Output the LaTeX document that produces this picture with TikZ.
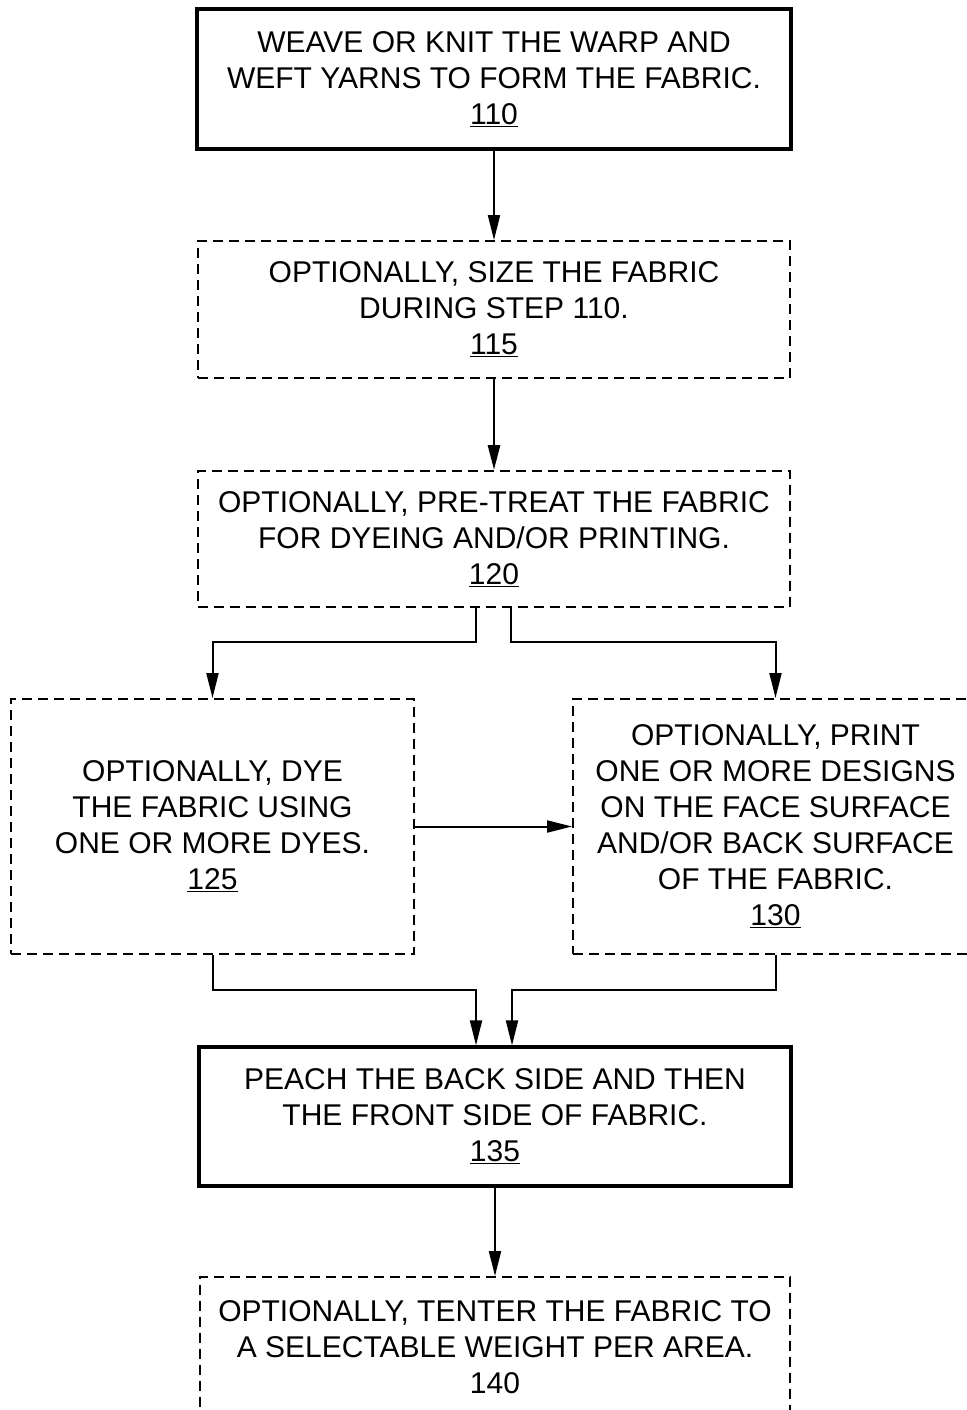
\documentclass[tikz,border=0pt]{standalone}
\usepackage{fontspec}
\setmainfont{Liberation Sans}
\usetikzlibrary{arrows.meta}
\begin{document}
\begin{tikzpicture}[x=1pt,y=-1pt,
  every node/.style={font=\fontsize{30}{36}\selectfont, align=center, inner sep=0pt},
  solidbox/.style={draw, line width=3.2pt, rectangle},
  optbox/.style={draw, line width=2pt, rectangle, dash pattern=on 10pt off 6pt},
  arr/.style={line width=2pt, -{Triangle[length=25pt,width=12pt]}}]
\useasboundingbox (0,0) rectangle (966,1410);
\node[solidbox, minimum width=594pt, minimum height=140pt] (n110) at (494,79)
  {WEAVE OR KNIT THE WARP AND\\WEFT YARNS TO FORM THE FABRIC.\\\underline{110}};
\node[optbox, minimum width=592pt, minimum height=137pt] (n115) at (494,309.5)
  {OPTIONALLY, SIZE THE FABRIC\\DURING STEP 110.\\\underline{115}};
\node[optbox, minimum width=592pt, minimum height=136pt] (n120) at (494,539)
  {OPTIONALLY, PRE-TREAT THE FABRIC\\FOR DYEING AND/OR PRINTING.\\\underline{120}};
\node[optbox, minimum width=403pt, minimum height=255pt] (n125) at (212.5,826.5)
  {OPTIONALLY, DYE\\THE FABRIC USING\\ONE OR MORE DYES.\\\underline{125}};
\node[optbox, minimum width=405pt, minimum height=255pt] (n130) at (775.5,826.5)
  {OPTIONALLY, PRINT\\ONE OR MORE DESIGNS\\ON THE FACE SURFACE\\AND/OR BACK SURFACE\\OF THE FABRIC.\\\underline{130}};
\node[solidbox, minimum width=592pt, minimum height=139pt] (n135) at (495,1116.5)
  {PEACH THE BACK SIDE AND THEN\\THE FRONT SIDE OF FABRIC.\\\underline{135}};
\node[optbox, minimum width=590pt, minimum height=140pt] (n140) at (495,1347)
  {OPTIONALLY, TENTER THE FABRIC TO\\A SELECTABLE WEIGHT PER AREA.\\140};
\draw[arr] (n110.south) -- (n115.north);
\draw[arr, line width=2.8pt] (n115.south) -- (n120.north);
\draw[arr] ([xshift=-18pt]n120.south) -- ++(0,34) -| (n125.north);
\draw[arr] ([xshift=17pt]n120.south) -- ++(0,34) -| (n130.north);
\draw[arr] (n125.east) -- (n130.west);
\draw[arr] (n125.south) -- ++(0,35) -| ([xshift=-19pt]n135.north);
\draw[arr] (n130.south) -- ++(0,35) -| ([xshift=17pt]n135.north);
\draw[arr] (n135.south) -- (n140.north);
\end{tikzpicture}
\end{document}
